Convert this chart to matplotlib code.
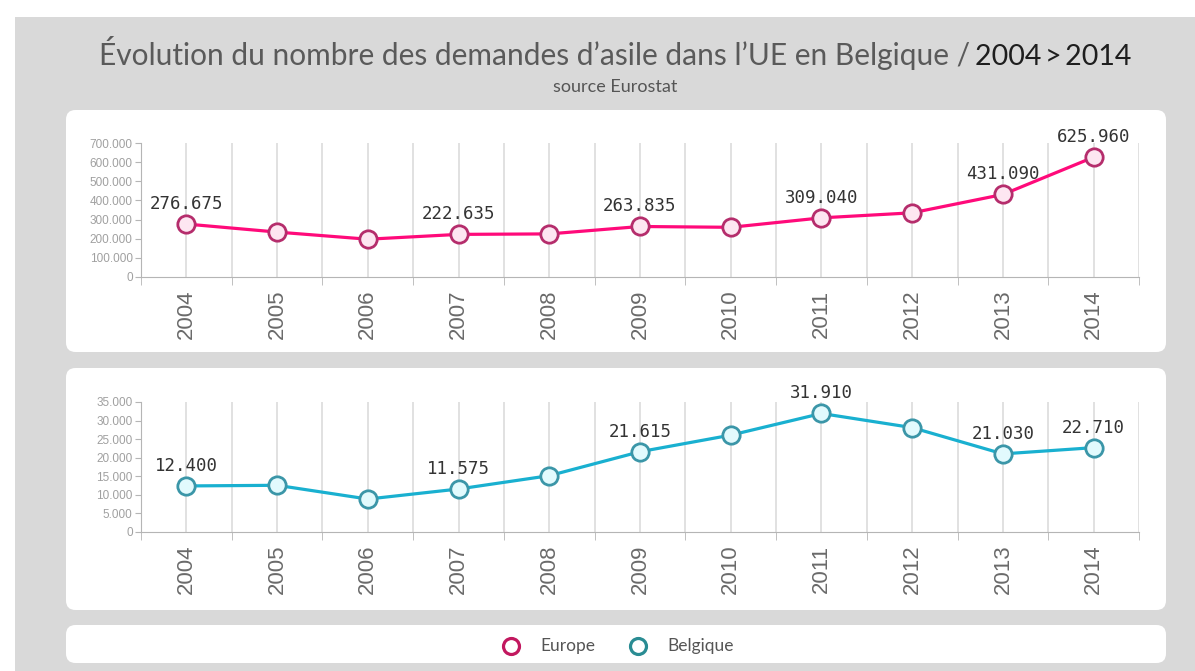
"""Demandes d'asile UE / Belgique 2004-2014 (source Eurostat) -> out.png"""
import matplotlib
matplotlib.use("Agg")
import matplotlib.pyplot as plt
from matplotlib.patches import FancyBboxPatch, Rectangle
from matplotlib.ticker import FuncFormatter, MultipleLocator
import numpy as np

W, H = 1195, 671

years = ["2004", "2005", "2006", "2007", "2008", "2009", "2010", "2011", "2012", "2013", "2014"]
europe = [276675, 234675, 197410, 222635, 225150, 263835, 259630, 309040, 335290, 431090, 625960]
belgique = [12400, 12575, 8870, 11575, 15165, 21615, 26080, 31910, 28105, 21030, 22710]
labelled = [0, 3, 5, 7, 9, 10]   # points qui ont une etiquette

PINK, PINK_EDGE, PINK_FACE = "#ff0a7a", "#b52d6c", "#fde6f1"
CYAN, CYAN_EDGE, CYAN_FACE = "#19b0d0", "#3b96a8", "#e2fafd"


def px(x0, y0, x1, y1):
    """rect en pixels (y vers le bas) -> coordonnees figure"""
    return [x0 / W, 1 - y1 / H, (x1 - x0) / W, (y1 - y0) / H]


def thousands(v, _pos=None):
    return f"{int(v):,}".replace(",", ".")


fig = plt.figure(figsize=(W / 100, H / 100), dpi=100)
fig.patch.set_facecolor("white")

# carte grise + panneaux blancs
fig.patches.append(Rectangle((15 / W, 0), 1 - 15 / W, 1 - 17 / H, transform=fig.transFigure,
                             facecolor="#d9d9d9", edgecolor="none", zorder=0))
for y0, y1 in [(110, 352), (368, 610), (625, 663)]:
    x, y, w, h = px(66, y0, 1166, y1)
    fig.patches.append(FancyBboxPatch((x, y), w, h, boxstyle="round,pad=0,rounding_size=0.008",
                                      transform=fig.transFigure, facecolor="white",
                                      edgecolor="none", zorder=1, mutation_aspect=W / H))

# titre (partie grise + dates en fonce, serrees)
ty = 1 - 65 / H
fig.text(970 / W, ty, "Évolution du nombre des demandes d\u2019asile dans l\u2019UE en Belgique /",
         ha="right", va="baseline", color="#5a5a5a", family=["Lato", "DejaVu Sans"], fontsize=21.5)
fig.text(1131 / W, ty, "2004\u2009>\u20092014", ha="right", va="baseline", color="#1e1e1e",
         family=["Lato", "DejaVu Sans"], fontsize=20.5)
fig.text(615 / W, 1 - 87 / H, "source Eurostat", ha="center", va="center",
         color="#555555", family="Lato", fontsize=13)


def panel(rect, values, ymax, step, line, edge, face):
    ax = fig.add_axes(rect, zorder=3)
    ax.set_facecolor("none")
    x = np.arange(len(years))
    ax.plot(x, values, color=line, lw=2.3, zorder=3, solid_capstyle="round")
    ax.plot(x, values, ls="none", marker="o", ms=12.5, mfc=face, mec=edge, mew=2.0, zorder=4)
    for i in labelled:
        ax.annotate(thousands(values[i]), (x[i], values[i]), xytext=(0, 8),
                    textcoords="offset points", ha="center", va="bottom",
                    family="DejaVu Sans Mono", fontsize=12.5, color="#333333", zorder=5)
    ax.set_xlim(-0.5, len(years) - 0.5)
    ax.set_ylim(0, ymax)
    ax.set_xticks(x)
    ax.set_xticklabels(years, rotation=90, family="Liberation Sans", fontsize=16, color="#6a6a6a")
    ax.set_xticks(np.arange(-0.5, len(years)), minor=True)
    ax.tick_params(axis="x", which="major", length=0, pad=9)
    ax.tick_params(axis="x", which="minor", length=6, color="#b5b5b5")
    ax.grid(axis="x", which="both", color="#dcdcdc", lw=1.2)
    ax.yaxis.set_major_locator(MultipleLocator(step))
    ax.yaxis.set_major_formatter(FuncFormatter(thousands))
    ax.tick_params(axis="y", length=4, color="#b5b5b5", labelsize=8.5, labelcolor="#a0a0a0", pad=2)
    for lab in ax.get_yticklabels():
        lab.set_family("Liberation Sans")
    for s in ["top", "right"]:
        ax.spines[s].set_visible(False)
    for s in ["left", "bottom"]:
        ax.spines[s].set_color("#b5b5b5")
    return ax


panel(px(141, 143, 1139, 277), europe, 700000, 100000, PINK, PINK_EDGE, PINK_FACE)
panel(px(141, 402, 1139, 532), belgique, 35000, 5000, CYAN, CYAN_EDGE, CYAN_FACE)

# legende
lg = fig.add_axes(px(66, 625, 1166, 663), zorder=3)
lg.set_xlim(66, 1166)
lg.set_ylim(663, 625)
lg.axis("off")
for xm, name, col in [(511, "Europe", "#c2185f"), (638, "Belgique", "#2a8c93")]:
    lg.plot([xm], [646], marker="o", ms=11.5, mfc="white", mec=col, mew=2.3)
    lg.text(xm + 29, 646, name, va="center", ha="left", family="Lato", fontsize=12.5, color="#555555")

fig.savefig("out.png", dpi=100)
